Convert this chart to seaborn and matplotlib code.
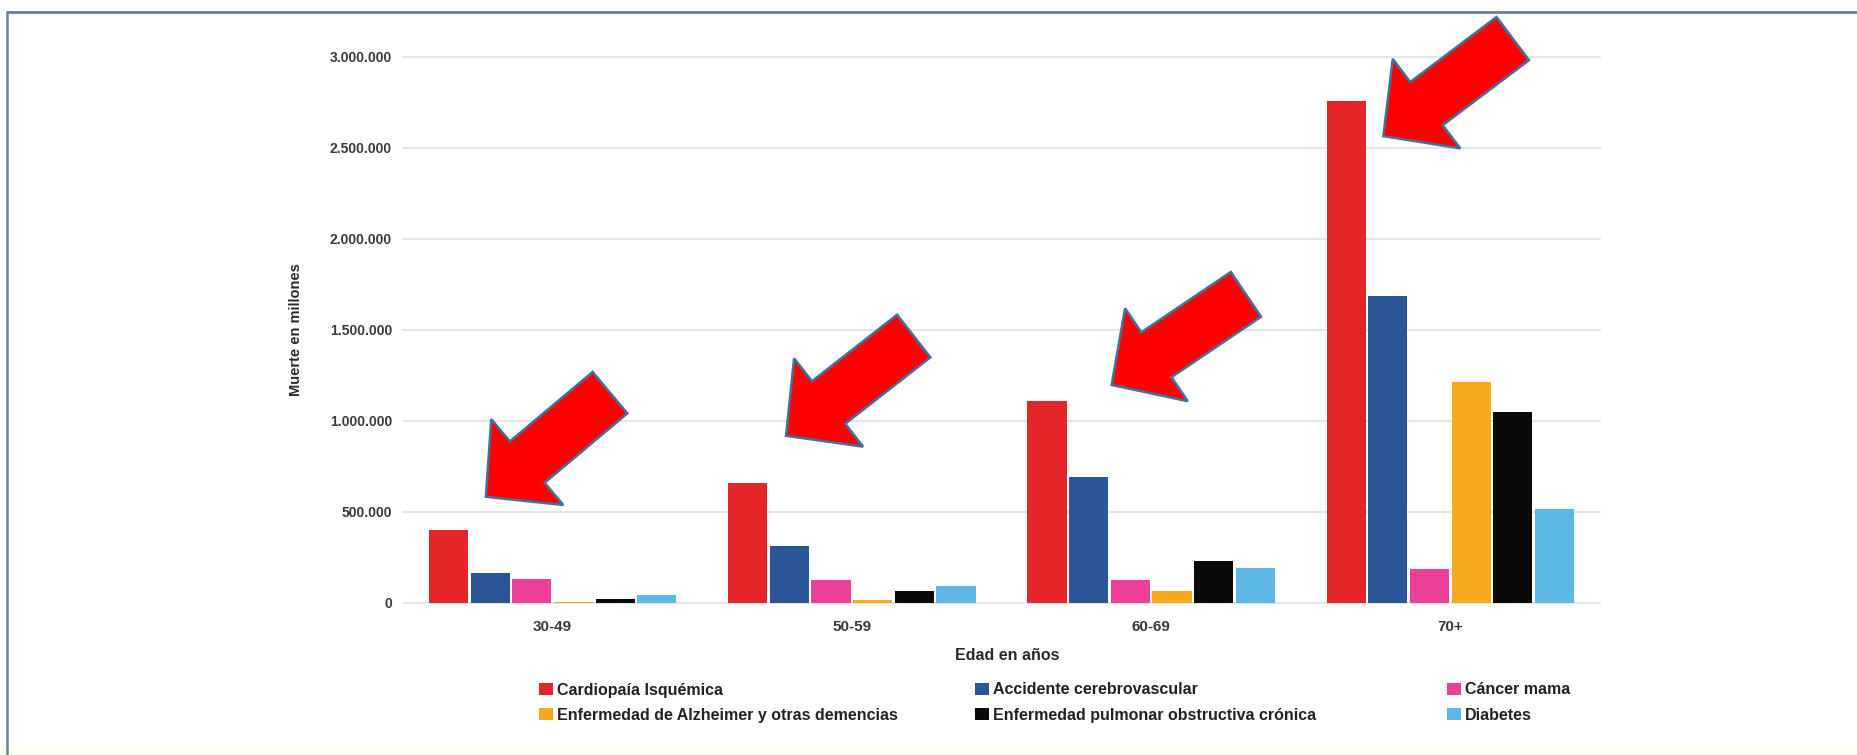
import numpy as np
import pandas as pd
import matplotlib
matplotlib.use("Agg")
import matplotlib.pyplot as plt
from matplotlib.patches import Patch, Polygon, Rectangle
from matplotlib.lines import Line2D
from matplotlib.ticker import FuncFormatter, FixedLocator
import seaborn as sns

# ---- data -----------------------------------------------------------------
age_groups = ["30-49", "50-59", "60-69", "70+"]
causes = [
    "Cardiopaía Isquémica",
    "Accidente cerebrovascular",
    "Cáncer mama",
    "Enfermedad de Alzheimer y otras demencias",
    "Enfermedad pulmonar obstructiva crónica",
    "Diabetes",
]
cardiopatia = [400000, 656000, 1110000, 2755000]
accidente_cv = [167000, 313000, 692000, 1688000]
cancer_mama = [130000, 125000, 125000, 185000]
alzheimer = [4000, 15000, 66000, 1215000]
epoc = [24000, 66000, 231000, 1048000]
diabetes = [42000, 92000, 194000, 515000]
y_ticks = [0, 500000, 1000000, 1500000, 2000000, 2500000, 3000000]

colors = ["#E4252A", "#2A5697", "#EC3F98", "#F6A91D", "#0B0A08", "#5DB8E7"]

# call-out arrows: tip position (category offset, value) and tilt in degrees
arrow_tips_x = [-0.223, 0.78, 1.868, 2.776]
arrow_tips_y = [583000, 918000, 1197000, 2563000]
arrow_angles = [40, 38, 34, 37]

series = [cardiopatia, accidente_cv, cancer_mama, alzheimer, epoc, diabetes]
df = pd.DataFrame(
    [(age, cause, vals[i])
     for cause, vals in zip(causes, series)
     for i, age in enumerate(age_groups)],
    columns=["Edad", "Causa", "Muertes"],
)

# ---- fonts ----------------------------------------------------------------
sns.set_theme(style="white")
plt.rcParams["font.family"] = ["Liberation Sans", "DejaVu Sans"]

W, H = 1857, 755
fig = plt.figure(figsize=(W / 100, H / 100), dpi=100, facecolor="white")
ax = fig.add_axes([403 / W, (H - 603) / H, 1197 / W, 546.5 / H])

sns.barplot(
    data=df, x="Edad", y="Muertes", hue="Causa",
    order=age_groups, hue_order=causes, palette=colors,
    width=0.835, gap=0.06, saturation=1, errorbar=None,
    legend=False, linewidth=0, ax=ax,
)

ax.set_xlim(-0.5, len(age_groups) - 0.5)
ax.set_ylim(0, 3000000)
ax.yaxis.set_major_locator(FixedLocator(y_ticks))
ax.yaxis.set_major_formatter(
    FuncFormatter(lambda v, _: f"{int(v):,}".replace(",", "."))
)
ax.yaxis.grid(True, color="#E6E6E6", linewidth=1.5)
ax.xaxis.grid(False)
ax.set_axisbelow(True)
for gl in ax.get_ygridlines():
    gl.set_clip_on(False)
for s in ax.spines.values():
    s.set_visible(False)

ax.tick_params(axis="both", length=0)
ax.tick_params(axis="y", pad=8)
ax.tick_params(axis="x", pad=12)
for lab in ax.get_yticklabels():
    lab.set_fontsize(10)
    lab.set_fontweight("bold")
    lab.set_color("#3A3A3A")
for lab in ax.get_xticklabels():
    lab.set_fontsize(11)
    lab.set_fontweight("bold")
    lab.set_color("#3A3A3A")

ax.set_ylabel("Muerte en millones", fontsize=10.5, fontweight="bold",
              color="#2A2A2A", va="center")
ax.yaxis.set_label_coords(-(403 - 296) / 1197, 0.5)
ax.set_xlabel("Edad en años", fontsize=11.5, fontweight="bold",
              color="#2A2A2A", va="center")
ax.xaxis.set_label_coords((1007 - 403) / 1197, -(655 - 603) / 546.5)

# ---- legend: three columns of two entries --------------------------------
handles = [Patch(facecolor=c, edgecolor="none") for c in colors]
col_x = [539 / W, 975 / W, 1447 / W]
col_items = [(0, 3), (1, 4), (2, 5)]
for cx, (a, b) in zip(col_x, col_items):
    leg = fig.legend(
        [handles[a], handles[b]], [causes[a], causes[b]],
        loc="upper left", bbox_to_anchor=(cx, 1 - 682.5 / H),
        frameon=False, borderpad=0, borderaxespad=0,
        handlelength=0.85, handleheight=0.8, handletextpad=0.3,
        labelspacing=0.65,
        prop={"size": 11.5, "weight": "bold"},
    )
    for t in leg.get_texts():
        t.set_color("#222222")

# ---- call-out arrows ------------------------------------------------------
shape = np.array([
    [0, 0], [54, 56], [54, 27], [162, 27],
    [162, -27], [54, -27], [54, -56],
], dtype=float)
inv = fig.transFigure.inverted()
for xo, yv, ang in zip(arrow_tips_x, arrow_tips_y, arrow_angles):
    tip = ax.transData.transform((xo, yv))
    t = np.deg2rad(ang)
    u = np.array([np.cos(t), np.sin(t)])
    v = np.array([-np.sin(t), np.cos(t)])
    pts = tip + shape[:, :1] * u + shape[:, 1:] * v
    fig.add_artist(Polygon(inv.transform(pts), closed=True,
                           facecolor="#FF0000", edgecolor="#41719C",
                           linewidth=1.8, transform=fig.transFigure,
                           zorder=10))

# ---- frame around the slide ----------------------------------------------
fig.add_artist(Rectangle((0, 0), 1, 10 / H, transform=fig.transFigure,
                         facecolor="#FFFEF2", edgecolor="none", zorder=0))
fig.add_artist(Line2D([7 / W, 1], [1 - 12 / H, 1 - 12 / H],
                      transform=fig.transFigure, color="#6E76B6", lw=2))
fig.add_artist(Line2D([7 / W, 7 / W], [0, 1 - 12 / H],
                      transform=fig.transFigure, color="#6A8797", lw=1.8))

fig.savefig("out.png", dpi=100, facecolor="white")
